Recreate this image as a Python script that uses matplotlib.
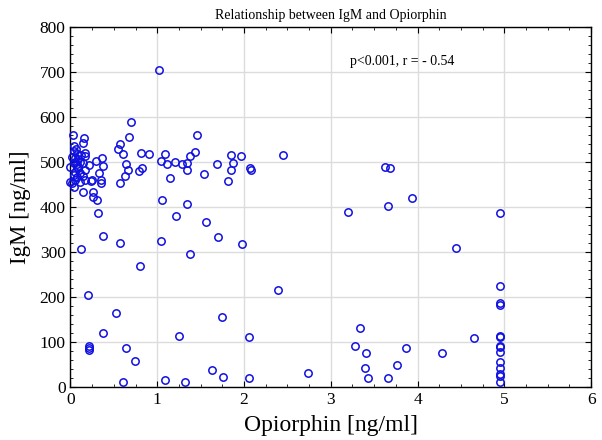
import matplotlib
matplotlib.use("Agg")
import matplotlib.pyplot as plt
from matplotlib.ticker import MultipleLocator

# Opiorphin [ng/ml] and IgM [ng/ml]
opiorphin = [
    1.02, 0.70, 0.674, 0.57, 1.46, 0.61, 0.81, 0.90, 1.09, 1.435, 1.38, 1.85,
    1.97, 2.45, 0.64, 1.04, 1.11, 1.20, 1.28, 1.34, 1.34, 1.685, 1.87, 1.85,
    2.07, 2.08, 0.66, 0.82, 0.79, 0.63, 0.57, 1.15, 1.54, 1.82, 1.06, 1.34,
    1.22, 1.56, 1.70, 0.57, 1.04, 1.98, 1.38, 0.80, 0.55,
    0.03, 0.16, 0.14, 0.04, 0.06, 0.04, 0.17, 0.17, 0.075, 0.055, 0.09, 0.11,
    0.055, 0.04, 0.15, 0.21, 0.29, 0.36, 0.37, 0.075, 0.09, 0.17, 0.055, 0.11,
    0.04, 0.075, 0.15, 0.055, 0.11, 0.17, 0.02, 0.25, 0.355, 0.355, 0.33,
    0.14, 0.26, 0.26, 0.31, 0.04, 0.0, 0.0, 0.24, 0.32, 0.38, 0.12,
    0.205, 0.02, 0.07, 0.12,
    0.525, 0.37, 0.215, 0.215, 0.21, 0.635, 0.74, 0.61, 1.09, 1.32, 1.25,
    1.75, 1.63, 1.76, 2.06, 2.06, 2.74, 2.39,
    3.62, 3.68, 3.20, 3.66, 3.94, 4.44, 4.65, 3.87, 4.28, 3.34, 3.28, 3.41,
    3.39, 3.43, 3.66, 3.76,
    4.95, 4.95, 4.95, 4.95, 4.95, 4.95, 4.95, 4.95, 4.95, 4.95, 4.95, 4.95,
    4.95, 4.95,
]
igm = [
    705, 588, 555, 540, 561, 518, 519, 517, 517, 522, 513, 515,
    514, 516, 495, 502, 496, 501, 495, 498, 483, 495, 497, 483,
    487, 483, 483, 487, 479, 470, 453, 464, 473, 458, 416, 406,
    381, 367, 334, 319, 324, 318, 296, 270, 529,
    560, 553, 543, 535, 530, 524, 521, 513, 518, 510, 506, 501,
    501, 497, 497, 493, 503, 508, 491, 490, 486, 482, 478, 475,
    471, 467, 469, 460, 456, 460, 453, 460, 460, 454, 475,
    434, 434, 422, 416, 445, 490, 455, 458, 387, 335, 306,
    205, 512, 495, 515,
    164, 119, 90, 82, 87, 87, 58, 12, 16, 12, 113,
    155, 38, 23, 110, 19, 30, 215,
    488, 486, 390, 402, 420, 310, 108, 87, 75, 130, 92, 75,
    43, 19, 20, 49,
    386, 224, 186, 183, 114, 110, 92, 88, 78, 56, 43, 29,
    25, 10,
]

plt.rcParams["font.family"] = ["Liberation Serif", "DejaVu Serif"]

fig = plt.figure(figsize=(6.02, 4.40), dpi=100)
ax = fig.add_axes([0.117, 0.1205, 0.865, 0.818])

ax.plot(opiorphin, igm, linestyle="none", marker="o", markersize=5.3,
        markerfacecolor="none", markeredgecolor="#1010e0", markeredgewidth=1.1,
        clip_on=False, zorder=3)

ax.set_xlim(0, 6)
ax.set_ylim(0, 800)
ax.xaxis.set_major_locator(MultipleLocator(1))
ax.xaxis.set_minor_locator(MultipleLocator(0.25))
ax.yaxis.set_major_locator(MultipleLocator(100))
ax.yaxis.set_minor_locator(MultipleLocator(20))
ax.tick_params(which="both", direction="in", top=True, right=True,
               labelsize=12.5, colors="black")
ax.tick_params(which="major", length=4.5)
ax.tick_params(which="minor", length=2.5)
ax.grid(True, which="major", color="#dcdcdc", linewidth=1)
ax.set_axisbelow(True)
for s in ax.spines.values():
    s.set_linewidth(1)

ax.set_title("Relationship between IgM and Opiorphin", fontsize=10, pad=6)
ax.set_xlabel("Opiorphin [ng/ml]", fontsize=17, labelpad=5)
ax.set_ylabel("IgM [ng/ml]", fontsize=16.5, labelpad=6)
ax.text(3.22, 724, "p<0.001, r = - 0.54", fontsize=10, va="center", ha="left")

fig.savefig("out.png", dpi=100)
